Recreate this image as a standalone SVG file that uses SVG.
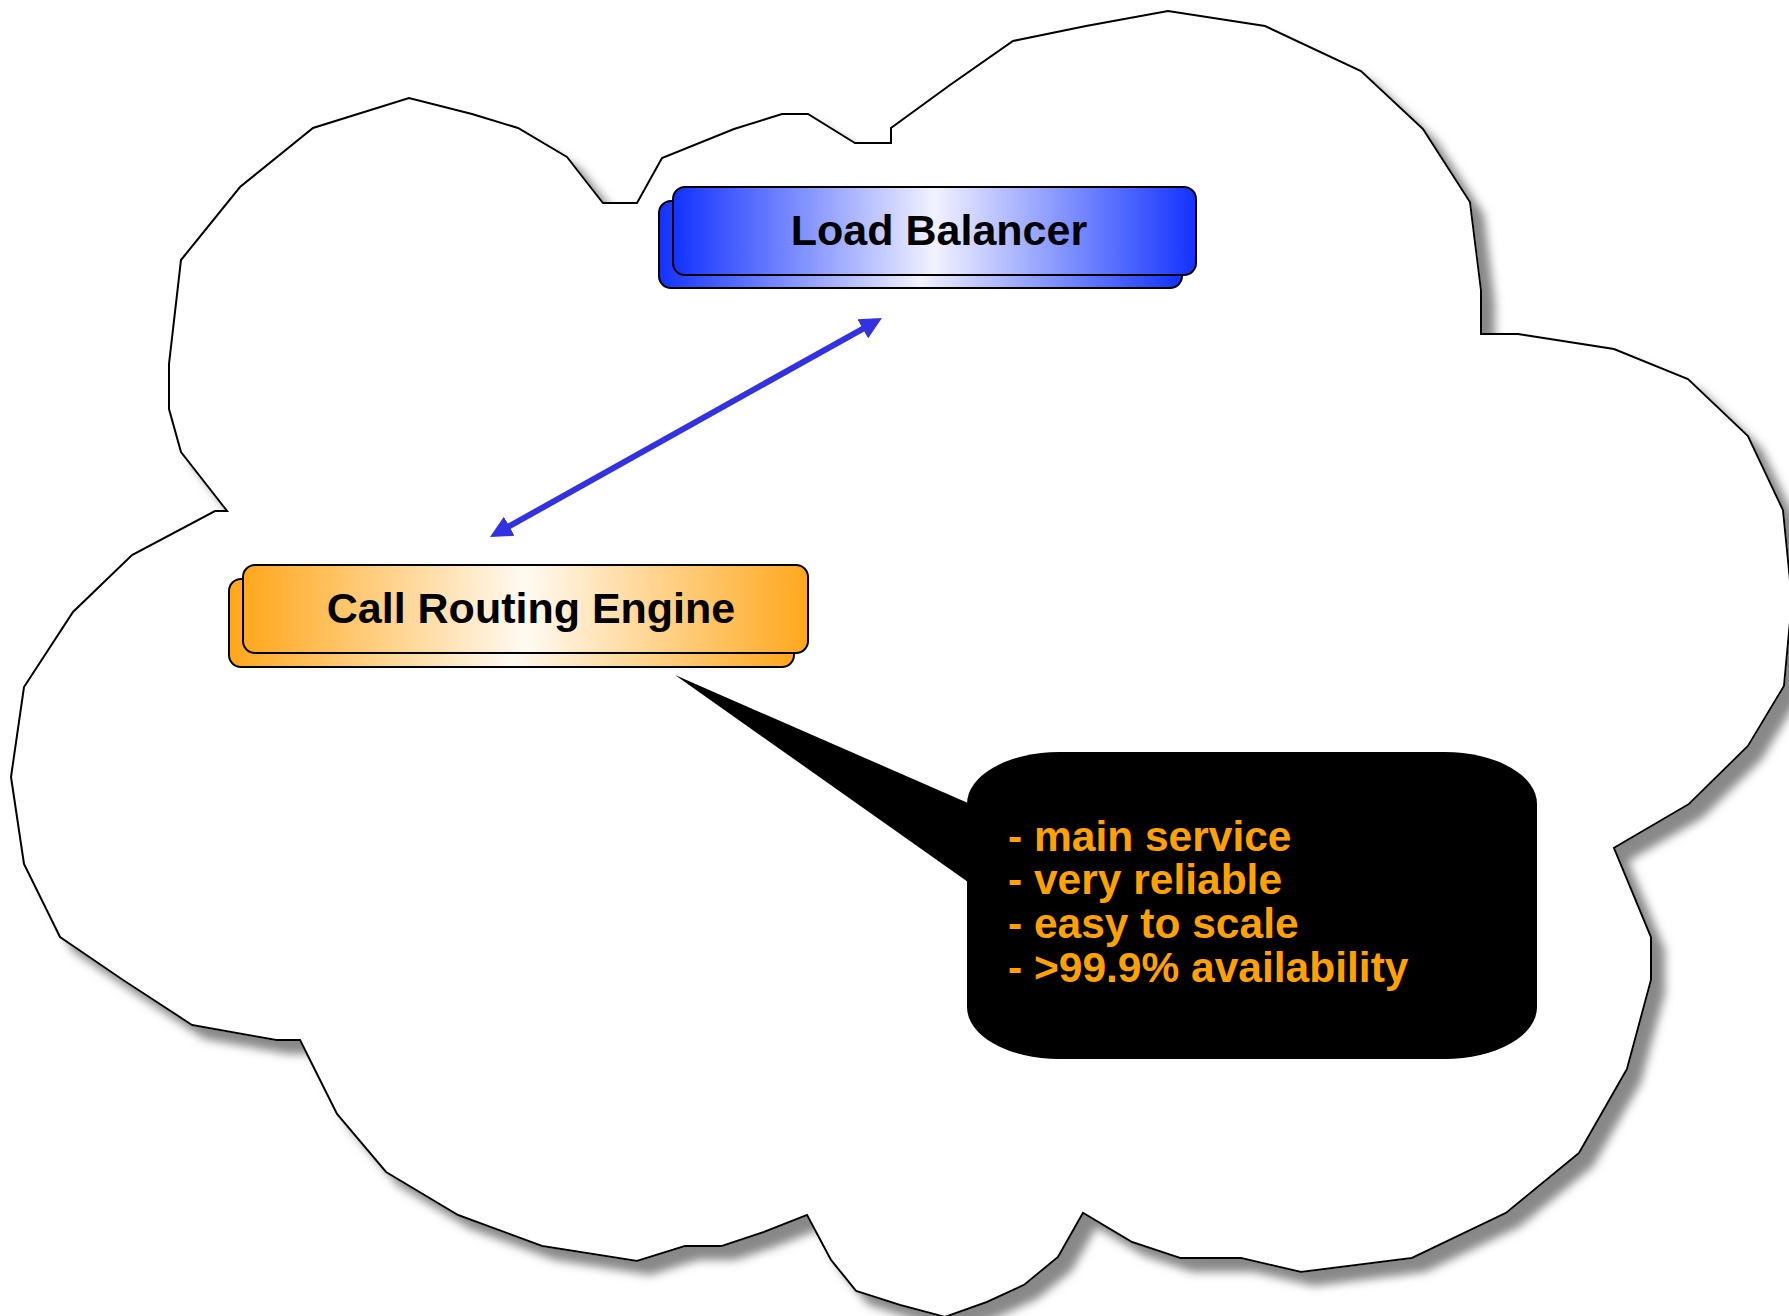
<svg xmlns="http://www.w3.org/2000/svg" width="1789" height="1316" viewBox="0 0 1789 1316">
  <defs>
    <style>
      .label { font-family: "Liberation Sans", Arial, sans-serif; font-weight: bold; font-size: 43px; fill: #000; }
      .note { font-family: "Liberation Sans", Arial, sans-serif; font-weight: bold; font-size: 42.5px; fill: #ffa200; }
      .box { stroke: #000; stroke-width: 2; }
      .cloud { fill: #fff; stroke: #000; stroke-width: 2; stroke-linejoin: miter; }
      .link { stroke: #3232e0; stroke-width: 6; fill: none; }
    </style>
    <linearGradient id="blueFill" x1="0" y1="0" x2="1" y2="0">
      <stop offset="0" stop-color="#1232ff"/>
      <stop offset="0.5" stop-color="#f2f2ff"/>
      <stop offset="1" stop-color="#1232ff"/>
    </linearGradient>
    <linearGradient id="orangeFill" x1="0" y1="0" x2="1" y2="0">
      <stop offset="0" stop-color="#ffa71c"/>
      <stop offset="0.5" stop-color="#fffaf2"/>
      <stop offset="1" stop-color="#ffa71c"/>
    </linearGradient>
    <filter id="cloudShadow" x="-5%" y="-5%" width="115%" height="115%">
      <feDropShadow dx="13" dy="13" stdDeviation="5" flood-color="#888888" flood-opacity="1"/>
    </filter>
    <marker id="head" viewBox="0 0 22 22" markerWidth="22" markerHeight="22" refX="2" refY="11" orient="auto-start-reverse" markerUnits="userSpaceOnUse">
      <path d="M0,0 L22,11 L0,22 z" fill="#3232e0"/>
    </marker>
  </defs>

  <!-- network cloud -->
  <g id="cloud">
    <polygon class="cloud" filter="url(#cloudShadow)" points="169,409 169,364 181,260 240,187 313,128 409,98 472,114 518,128 567,157 603,203 637,203 662,158 734,129 782,114 808,114 855,143 891,143 891,128 950,85 1013,41 1086,26 1168,11 1265,26 1361,71 1423,129 1470,202 1481,290 1481,334 1518,334 1614,349 1688,379 1748,436 1783,510 1792,600 1784,686 1748,746 1689,804 1614,848 1651,937 1651,980 1627,1069 1579,1153 1506,1213 1412,1258 1301,1272 1241,1258 1180,1258 1132,1242 1083,1213 1058,1257 1024,1285 987,1302 945,1317 900,1305 856,1291 831,1260 807,1215 764,1232 722,1246 685,1246 637,1261 542,1246 458,1215 386,1172 337,1114 300,1040 276,1040 192,1025 123,980 60,937 24,864 11,777 24,687 73,612 132,555 215,511 227,511 181,452"/>
  </g>

  <!-- connectors -->
  <g id="connectors">
    <line class="link" x1="507.5" y1="527.2" x2="864.5" y2="327.8" marker-start="url(#head)" marker-end="url(#head)"/>
  </g>

  <g id="load-balancer">
    <rect class="box" x="659" y="201" width="523" height="87" rx="12" ry="12" fill="url(#blueFill)"/>
    <rect class="box" x="673" y="187" width="523" height="88" rx="12" ry="12" fill="url(#blueFill)"/>
    <text class="label" x="939" y="245" text-anchor="middle">Load Balancer</text>
  </g>

  <g id="call-routing-engine">
    <rect class="box" x="229" y="579" width="565" height="88" rx="12" ry="12" fill="url(#orangeFill)"/>
    <rect class="box" x="243" y="565" width="565" height="88" rx="12" ry="12" fill="url(#orangeFill)"/>
    <text class="label" x="531" y="623" text-anchor="middle">Call Routing Engine</text>
  </g>

  <g id="note">
    <polygon points="675,675 968,803 968,882" fill="#000"/>
    <rect x="967" y="752" width="570" height="307" rx="92" ry="52" fill="#000"/>
    <text class="note" x="1008" y="851">- main service</text>
    <text class="note" x="1008" y="894">- very reliable</text>
    <text class="note" x="1008" y="938">- easy to scale</text>
    <text class="note" x="1008" y="982">- &gt;99.9% availability</text>
  </g>
</svg>
